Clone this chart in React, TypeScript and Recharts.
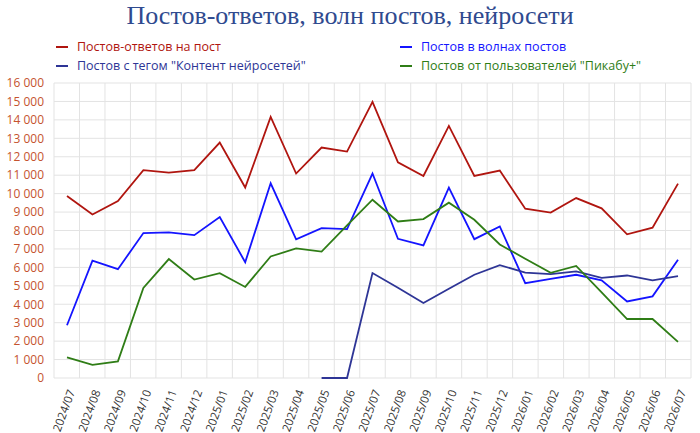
import React from "react";
import { LineChart, Line, XAxis, YAxis, CartesianGrid } from "recharts";

// Months on the x axis
const months = [
  "2024/07", "2024/08", "2024/09", "2024/10", "2024/11", "2024/12",
  "2025/01", "2025/02", "2025/03", "2025/04", "2025/05", "2025/06",
  "2025/07", "2025/08", "2025/09", "2025/10", "2025/11", "2025/12",
  "2026/01", "2026/02", "2026/03", "2026/04", "2026/05", "2026/06",
  "2026/07",
];

// Постов-ответов на пост
const replies = [
  9870, 8870, 9600, 11270, 11140, 11270, 12770, 10330, 14160, 11090, 12500,
  12280, 14980, 11700, 10960, 13670, 10960, 11250, 9180, 8970, 9760, 9200,
  7790, 8150, 10540,
];

// Постов в волнах постов
const waves = [
  2860, 6370, 5900, 7860, 7900, 7750, 8730, 6280, 10560, 7520, 8130, 8080,
  11090, 7550, 7190, 10330, 7530, 8220, 5140, 5380, 5600, 5300, 4150, 4430,
  6410,
];

// Постов с тегом "Контент нейросетей"
const neural: (number | null)[] = [
  null, null, null, null, null, null, null, null, null, null, 0, 0, 5690,
  4890, 4070, 4840, 5600, 6120, 5720, 5630, 5780, 5430, 5560, 5300, 5520,
];

// Постов от пользователей "Пикабу+"
const plus = [
  1120, 710, 900, 4890, 6450, 5340, 5690, 4940, 6590, 7030, 6860, 8280, 9670,
  8490, 8620, 9510, 8580, 7240, 6470, 5700, 6080, 4650, 3200, 3200, 1960,
];

const yTicks = [
  0, 1000, 2000, 3000, 4000, 5000, 6000, 7000, 8000, 9000, 10000, 11000,
  12000, 13000, 14000, 15000, 16000,
];

const SERIES = [
  { key: "replies", name: "Постов-ответов на пост", color: "#B0150F" },
  { key: "waves", name: "Постов в волнах постов", color: "#1414FF" },
  { key: "neural", name: 'Постов с тегом "Контент нейросетей"', color: "#2E3596" },
  { key: "plus", name: 'Постов от пользователей "Пикабу+"', color: "#2F7D16" },
];

const data = months.map((month, i) => ({
  month,
  replies: replies[i],
  waves: waves[i],
  neural: neural[i],
  plus: plus[i],
}));

const formatThousands = (v: number) =>
  v.toString().replace(/\B(?=(\d{3})+(?!\d))/g, "\u00a0");

const MonthTick = (props: any) => {
  const { x, y, payload } = props;
  return (
    <text
      x={x + 4}
      y={y + 4}
      transform={`rotate(-70 ${x + 4} ${y + 4})`}
      textAnchor="end"
      dominantBaseline="central"
      fontSize={11.5}
      fill="#333"
      fontFamily="'Open Sans', sans-serif"
    >
      {payload.value}
    </text>
  );
};

export default function App() {
  return (
    <div
      style={{
        position: "absolute",
        left: 0,
        top: 0,
        width: 700,
        height: 433,
        background: "#fff",
      }}
    >
      <div
        style={{
          position: "absolute",
          top: 0,
          width: 700,
          textAlign: "center",
          fontFamily: "'Liberation Serif', 'DejaVu Serif', serif",
          fontSize: 26,
          color: "#2F4A8F",
          lineHeight: "32px",
        }}
      >
        Постов-ответов, волн постов, нейросети
      </div>
      {/* legend, two columns */}
      <div
        style={{
          position: "absolute",
          top: 38,
          left: 56,
          display: "grid",
          gridTemplateColumns: "344px 300px",
          rowGap: 2,
          fontFamily: "'Open Sans', sans-serif",
          fontSize: 12.5,
        }}
      >
        {SERIES.map((s) => (
          <div key={s.key} style={{ display: "flex", alignItems: "center", color: s.color }}>
            <span
              style={{
                display: "inline-block",
                width: 12,
                height: 2,
                background: s.color,
                marginRight: 9,
              }}
            />
            {s.name}
          </div>
        ))}
      </div>
      <LineChart
        width={700}
        height={433}
        data={data}
        margin={{ top: 83, right: 9, left: 0, bottom: 0 }}
      >
        <CartesianGrid
          stroke="#E3E3E3"
          verticalCoordinatesGenerator={({ offset }: any) =>
            Array.from(
              { length: months.length + 1 },
              (_, i) => offset.left + (i * offset.width) / months.length
            )
          }
        />
        <XAxis
          dataKey="month"
          interval={0}
          padding={{ left: 13, right: 13 }}
          axisLine={false}
          tickLine={false}
          height={55}
          tick={<MonthTick />}
        />
        <YAxis
          domain={[0, 16000]}
          ticks={yTicks}
          interval={0}
          width={54}
          axisLine={false}
          tickLine={false}
          tickSize={0}
          tickMargin={10}
          tickFormatter={formatThousands}
          tick={{ fill: "#C5532E", fontSize: 12, fontFamily: "'Open Sans', sans-serif" }}
        />
        {SERIES.map((s) => (
          <Line
            key={s.key}
            type="linear"
            dataKey={s.key}
            name={s.name}
            stroke={s.color}
            strokeWidth={1.8}
            dot={false}
            activeDot={false}
            isAnimationActive={false}
          />
        ))}
      </LineChart>
    </div>
  );
}
